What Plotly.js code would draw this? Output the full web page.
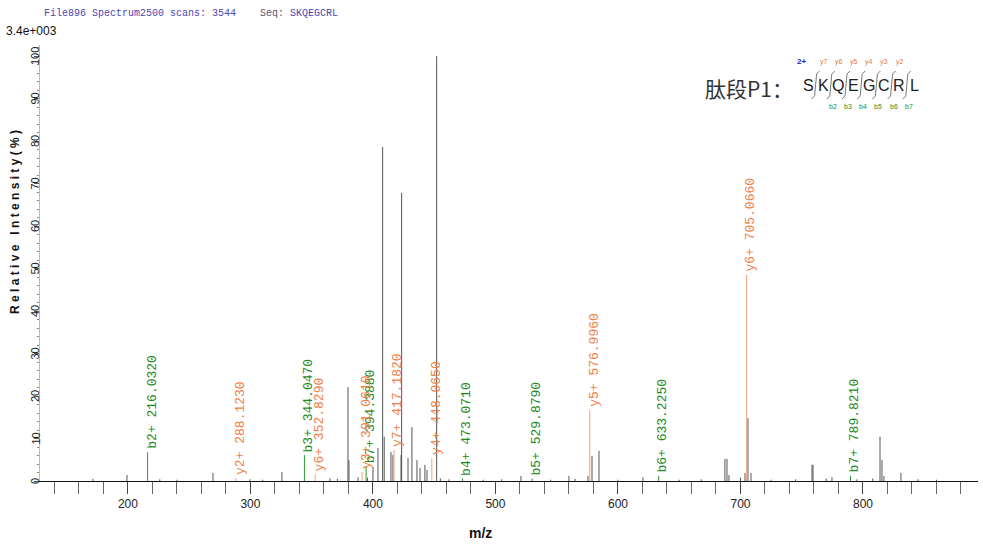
<!DOCTYPE html>
<html>
<head>
<meta charset="utf-8">
<script src="https://cdn.plot.ly/plotly-3.0.1.min.js"></script>
<style>html,body{margin:0;padding:0;background:#fff;}#chart{width:983px;height:545px;}</style>
</head>
<body>
<div id="chart"></div>
<script>
// ---------- data ----------
const otherMz  = [171.4, 199.2, 226.0, 240.0, 269.4, 299.6, 310.0, 325.7, 364.9, 371.0, 379.6, 380.4, 387.8, 395.5, 400.0, 404.1, 407.9, 409.2, 414.7, 416.3, 422.9, 423.4, 428.6, 431.8, 435.9, 438.4, 442.4, 444.1, 452.0, 455.0, 462.0, 490.0, 505.0, 520.8, 545.0, 560.0, 565.0, 575.5, 578.8, 584.5, 600.0, 620.4, 650.0, 668.0, 687.3, 689.0, 690.6, 700.0, 703.7, 706.1, 708.6, 725.0, 745.0, 758.4, 759.2, 770.0, 774.7, 795.0, 808.0, 813.9, 815.5, 817.1, 831.0, 845.0, 860.0];
const otherInt = [0.5, 1.4, 0.4, 0.3, 1.9, 0.4, 0.3, 2.1, 0.6, 0.5, 22.1, 4.9, 0.9, 0.8, 3.3, 7.8, 78.6, 10.4, 6.8, 6.1, 6.1, 67.8, 5.4, 12.7, 4.9, 3.1, 3.8, 2.6, 100, 0.6, 0.4, 0.3, 0.4, 1.2, 0.3, 1.2, 0.5, 1.2, 5.9, 7.1, 0.3, 0.9, 0.3, 0.4, 5.2, 5.2, 1.4, 0.8, 1.9, 14.8, 1.9, 0.3, 0.4, 3.8, 3.8, 0.6, 0.9, 0.4, 0.6, 10.4, 4.9, 1.2, 1.9, 0.4, 0.3];

const bIonMz     = [216.032, 344.047, 394.388, 473.071, 529.879, 633.225, 789.821];
const bIonInt    = [6.8, 6.1, 3.5, 0.6, 0.6, 1.2, 1.2];
const bIonLabels = ['b2+ 216.0320', 'b3+ 344.0470', 'b7+ 394.3880', 'b4+ 473.0710', 'b5+ 529.8790', 'b6+ 633.2250', 'b7+ 789.8210'];

const yIonMz     = [288.123, 352.829, 391.061, 417.182, 448.065, 576.996, 705.066];
const yIonInt    = [0.7, 1.6, 2.1, 7.3, 5.4, 16.7, 48.5];
const yIonLabels = ['y2+ 288.1230', 'y6+ 352.8290', 'y3+ 391.0610', 'y7+ 417.1820', 'y4+ 448.0650', 'y5+ 576.9960', 'y6+ 705.0660'];

const xTickVals = [200, 300, 400, 500, 600, 700, 800];
const yTickVals = [0, 10, 20, 30, 40, 50, 60, 70, 80, 90, 100];

const seqLetters   = ['S', 'K', 'Q', 'E', 'G', 'C', 'R', 'L'];
const seqYLabels   = ['y7', 'y6', 'y5', 'y4', 'y3', 'y2', ''];
const seqBLabels   = ['', 'b2', 'b3', 'b4', 'b5', 'b6', 'b7'];

// ---------- helpers ----------
function sticks(mz, inten) {
  const x = [], y = [];
  mz.forEach((m, i) => { x.push(m, m, null); y.push(0, inten[i], null); });
  return {x, y};
}
const L = 40, R = 978, T = 45, B = 481;
const px = X => (X - L) / (R - L);
const py = Y => (B - Y) / (B - T);

const GREEN = '#2f9a2f', GREEN_T = '#1e8a1e';
const ORANGE = '#f0a277', ORANGE_T = '#ef8048';

const o = sticks(otherMz, otherInt), bs = sticks(bIonMz, bIonInt), ys = sticks(yIonMz, yIonInt);
const traces = [
  {x: o.x, y: o.y, mode: 'lines', line: {color: '#555', width: 1}, hoverinfo: 'skip', showlegend: false},
  {x: bs.x, y: bs.y, mode: 'lines', line: {color: GREEN, width: 1}, hoverinfo: 'skip', showlegend: false},
  {x: ys.x, y: ys.y, mode: 'lines', line: {color: ORANGE, width: 1}, hoverinfo: 'skip', showlegend: false}
];

const ann = [];
function peakLabel(m, v, t, c) {
  ann.push({x: m, y: v, xref: 'x', yref: 'y', text: t, showarrow: false, textangle: -90,
    xanchor: 'center', yanchor: 'bottom', xshift: 4, yshift: 1,
    font: {family: 'Liberation Mono, monospace', size: 13, color: c}});
}
bIonMz.forEach((m, i) => peakLabel(m, bIonInt[i], bIonLabels[i], GREEN_T));
yIonMz.forEach((m, i) => peakLabel(m, yIonInt[i], yIonLabels[i], ORANGE_T));

// y tick labels, rotated like the reference
yTickVals.forEach(v => {
  ann.push({x: px(35), y: v, xref: 'paper', yref: 'y', text: String(v), showarrow: false, textangle: -90,
    xanchor: 'center', yanchor: 'middle',
    font: {family: 'Liberation Sans Narrow, Liberation Sans, Arial', size: 11, color: '#222'}});
});

// header text
ann.push({x: px(42), y: py(14), xref: 'paper', yref: 'paper', xanchor: 'left', yanchor: 'middle', showarrow: false,
  text: 'File896 Spectrum2500 scans: 3544&nbsp;&nbsp;&nbsp;&nbsp;<span style="color:#555570">Seq:</span> SKQEGCRL',
  font: {family: 'Liberation Mono, monospace', size: 10, color: '#4646b4'}});
ann.push({x: px(4), y: py(31), xref: 'paper', yref: 'paper', xanchor: 'left', yanchor: 'middle', showarrow: false,
  text: '3.4e+003', font: {family: 'Liberation Sans, Arial', size: 12, color: '#111'}});
// axis titles
ann.push({x: px(15), y: py(222), xref: 'paper', yref: 'paper', xanchor: 'center', yanchor: 'middle', showarrow: false,
  textangle: -90, text: '<b>R e l a t i v e &nbsp; I n t e n s i t y ( % )</b>',
  font: {family: 'Liberation Sans, Arial', size: 12, color: '#111'}});
ann.push({x: px(480), y: py(533), xref: 'paper', yref: 'paper', xanchor: 'center', yanchor: 'middle', showarrow: false,
  text: '<b>m/z</b>', font: {family: 'Liberation Sans, Arial', size: 14, color: '#111'}});

// peptide diagram
ann.push({x: px(703), y: py(88), xref: 'paper', yref: 'paper', xanchor: 'left', yanchor: 'middle', showarrow: false,
  text: '肽段P1：', font: {family: 'Noto Sans CJK SC', size: 21, color: '#333'}});
ann.push({x: px(801), y: py(61), xref: 'paper', yref: 'paper', xanchor: 'center', yanchor: 'middle', showarrow: false,
  text: '<b>2+</b>', font: {family: 'Liberation Sans, Arial', size: 8, color: '#2222cc'}});
const shapes = [];
const letterX0 = 808, letterDX = 15.2;
seqLetters.forEach((s, i) => {
  ann.push({x: px(letterX0 + i * letterDX), y: py(85), xref: 'paper', yref: 'paper', xanchor: 'center', yanchor: 'middle',
    showarrow: false, text: s, font: {family: 'Liberation Sans, Arial', size: 16, color: '#222'}});
});
for (let i = 0; i < seqLetters.length - 1; i++) {
  const sx = letterX0 + (i + 0.5) * letterDX;
  shapes.push({type: 'path', xref: 'paper', yref: 'paper',
    path: `M ${px(sx + 4)},${py(71)} L ${px(sx + 1)},${py(74)} L ${px(sx - 1)},${py(96)} L ${px(sx - 4)},${py(99)}`,
    line: {color: '#555', width: 0.8}});
  if (seqYLabels[i]) ann.push({x: px(sx + 8), y: py(62), xref: 'paper', yref: 'paper', xanchor: 'center', yanchor: 'middle',
    showarrow: false, text: seqYLabels[i], font: {family: 'Liberation Sans, Arial', size: 7, color: '#e07a45'}});
  if (seqBLabels[i]) ann.push({x: px(sx + 2), y: py(106), xref: 'paper', yref: 'paper', xanchor: 'center', yanchor: 'middle',
    showarrow: false, text: seqBLabels[i], font: {family: 'Liberation Sans, Arial', size: 7, color: '#1e8a1e'}});
}

const layout = {
  width: 983, height: 545,
  margin: {l: L, r: 983 - R, t: T, b: 545 - B, pad: 0},
  paper_bgcolor: '#fff', plot_bgcolor: '#fff',
  showlegend: false,
  xaxis: {range: [128.2, 893.9], showgrid: false, zeroline: false, showline: true, linecolor: '#111', linewidth: 1,
    tickmode: 'array', tickvals: xTickVals, ticks: 'outside', ticklen: 12, tickcolor: '#444', tickwidth: 1,
    minor: {dtick: 20, tick0: 0, ticks: 'outside', ticklen: 12, tickcolor: '#666', tickwidth: 1, showgrid: false},
    tickfont: {family: 'Liberation Sans Narrow, Liberation Sans, Arial', size: 12, color: '#222'}},
  yaxis: {range: [0, 102.6], showgrid: false, zeroline: false, showline: true, linecolor: '#bbb', linewidth: 1,
    tickmode: 'array', tickvals: yTickVals, ticks: 'outside', ticklen: 5, tickcolor: '#555', showticklabels: false,
    minor: {dtick: 2, tick0: 0, ticks: 'outside', ticklen: 2, tickcolor: '#888', showgrid: false}},
  annotations: ann,
  shapes: shapes
};
Plotly.newPlot('chart', traces, layout, {displayModeBar: false, staticPlot: true});
</script>
</body>
</html>
